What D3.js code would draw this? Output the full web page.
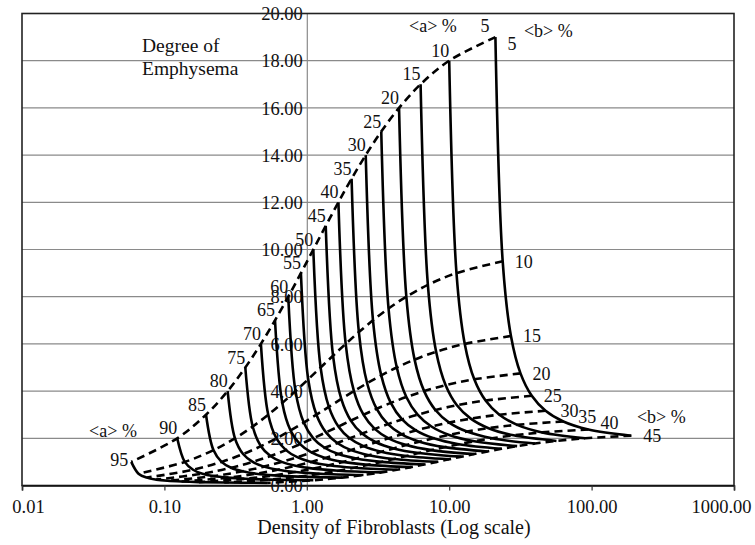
<!DOCTYPE html>
<html>
<head>
<meta charset="utf-8">
<script src="https://cdn.jsdelivr.net/npm/d3@7"></script>
<style>
  html, body { margin: 0; padding: 0; background: #fff; }
  svg { display: block; font-family: "Liberation Serif", "Times New Roman", serif; }
</style>
</head>
<body>
<svg id="chart" width="755" height="545"></svg>
<script>
// ---- data ----
const aLevels = [5, 10, 15, 20, 25, 30, 35, 40, 45, 50, 55, 60, 65, 70, 75, 80, 85, 90, 95];
const bLevels = [5, 10, 15, 20, 25, 30, 35, 40, 45];

// density of fibroblasts, one row per <a>%, one column per <b>%
const density = [
  [21.11, 23.75, 27.14, 31.67, 38.00, 47.50, 63.33, 95.00, 190.0],
  [10.00, 11.25, 12.86, 15.00, 18.00, 22.50, 30.00, 45.00, 90.00],
  [6.296, 7.083, 8.095, 9.444, 11.33, 14.17, 18.89, 28.33, 56.67],
  [4.444, 5.000, 5.714, 6.667, 8.000, 10.00, 13.33, 20.00, 40.00],
  [3.333, 3.750, 4.286, 5.000, 6.000, 7.500, 10.00, 15.00, 30.00],
  [2.593, 2.917, 3.333, 3.889, 4.667, 5.833, 7.778, 11.67, 23.33],
  [2.063, 2.321, 2.653, 3.095, 3.714, 4.643, 6.190, 9.286, 18.57],
  [1.667, 1.875, 2.143, 2.500, 3.000, 3.750, 5.000, 7.500, 15.00],
  [1.358, 1.528, 1.746, 2.037, 2.444, 3.056, 4.074, 6.111, 12.22],
  [1.111, 1.250, 1.429, 1.667, 2.000, 2.500, 3.333, 5.000, 10.00],
  [0.909, 1.023, 1.169, 1.364, 1.636, 2.045, 2.727, 4.091, 8.182],
  [0.741, 0.833, 0.952, 1.111, 1.333, 1.667, 2.222, 3.333, 6.667],
  [0.598, 0.673, 0.769, 0.897, 1.077, 1.346, 1.795, 2.692, 5.385],
  [0.476, 0.536, 0.612, 0.714, 0.857, 1.071, 1.429, 2.143, 4.286],
  [0.370, 0.417, 0.476, 0.556, 0.667, 0.833, 1.111, 1.667, 3.333],
  [0.278, 0.313, 0.357, 0.417, 0.500, 0.625, 0.833, 1.250, 2.500],
  [0.196, 0.221, 0.252, 0.294, 0.353, 0.441, 0.588, 0.882, 1.765],
  [0.123, 0.139, 0.159, 0.185, 0.222, 0.278, 0.370, 0.556, 1.111],
  [0.0585, 0.0658, 0.0752, 0.0877, 0.105, 0.132, 0.175, 0.263, 0.526]
];

// degree of emphysema, same layout
const emphysema = [
  [19, 9.5, 6.333, 4.75, 3.8, 3.167, 2.714, 2.375, 2.111],
  [18, 9, 6, 4.5, 3.6, 3, 2.571, 2.25, 2],
  [17, 8.5, 5.667, 4.25, 3.4, 2.833, 2.429, 2.125, 1.889],
  [16, 8, 5.333, 4, 3.2, 2.667, 2.286, 2, 1.778],
  [15, 7.5, 5, 3.75, 3, 2.5, 2.143, 1.875, 1.667],
  [14, 7, 4.667, 3.5, 2.8, 2.333, 2, 1.75, 1.556],
  [13, 6.5, 4.333, 3.25, 2.6, 2.167, 1.857, 1.625, 1.444],
  [12, 6, 4, 3, 2.4, 2, 1.714, 1.5, 1.333],
  [11, 5.5, 3.667, 2.75, 2.2, 1.833, 1.571, 1.375, 1.222],
  [10, 5, 3.333, 2.5, 2, 1.667, 1.429, 1.25, 1.111],
  [9, 4.5, 3, 2.25, 1.8, 1.5, 1.286, 1.125, 1],
  [8, 4, 2.667, 2, 1.6, 1.333, 1.143, 1, 0.889],
  [7, 3.5, 2.333, 1.75, 1.4, 1.167, 1, 0.875, 0.778],
  [6, 3, 2, 1.5, 1.2, 1, 0.857, 0.75, 0.667],
  [5, 2.5, 1.667, 1.25, 1, 0.833, 0.714, 0.625, 0.556],
  [4, 2, 1.333, 1, 0.8, 0.667, 0.571, 0.5, 0.444],
  [3, 1.5, 1, 0.75, 0.6, 0.5, 0.429, 0.375, 0.333],
  [2, 1, 0.667, 0.5, 0.4, 0.333, 0.286, 0.25, 0.222],
  [1, 0.5, 0.333, 0.25, 0.2, 0.167, 0.143, 0.125, 0.111]
];

const xTicks = [0.01, 0.1, 1, 10, 100, 1000];
const yTicks = [0, 2, 4, 6, 8, 10, 12, 14, 16, 18, 20];
const yTitleLines = ["Degree of", "Emphysema"];
const xTitle = "Density of Fibroblasts (Log scale)";
const aTitle = "<a> %";
const bTitle = "<b> %";

// ---- drawing ----
const svg = d3.select("#chart");
const L = 22, R = 734, T = 13.5, B = 485.5;
const x = d3.scaleLog().domain([0.01, 1000]).range([L, R]);
const y = d3.scaleLinear().domain([0, 20]).range([B, T]);
const fmt = d3.format(".2f");

// horizontal gridlines
svg.append("g").selectAll("line").data(yTicks.filter(d => d > 0 && d < 20)).join("line")
  .attr("x1", L).attr("x2", R).attr("y1", d => y(d)).attr("y2", d => y(d))
  .attr("stroke", "#8a8a8a").attr("stroke-width", 1.2);

// y axis at x = 1
const yAxis = svg.append("g").attr("transform", `translate(${x(1)},0)`)
  .call(d3.axisLeft(y).tickValues(yTicks).tickFormat(fmt).tickSize(0).tickPadding(4));
yAxis.select(".domain").attr("stroke", "#8a8a8a").attr("stroke-width", 1.2);
yAxis.selectAll("text").attr("font-size", 18.5).attr("fill", "#111")
  .attr("font-family", "Liberation Serif").attr("dy", "0.34em");

// plot frame
svg.append("rect").attr("x", L).attr("y", T).attr("width", R - L).attr("height", B - T)
  .attr("fill", "none").attr("stroke", "#222").attr("stroke-width", 1.6);

// x axis
const xAxis = svg.append("g").attr("transform", `translate(0,${B})`)
  .call(d3.axisBottom(x).tickValues(xTicks).tickFormat(fmt).tickSize(5).tickPadding(9));
xAxis.select(".domain").attr("stroke", "#111").attr("stroke-width", 1.6);
xAxis.selectAll(".tick line").attr("stroke", "#333").attr("stroke-width", 1.2);
xAxis.selectAll("text").attr("font-size", 18.5).attr("fill", "#111")
  .attr("font-family", "Liberation Serif")
  .attr("dx", d => d === 0.01 ? 6 : d === 1000 ? -13 : 0);

// curves
const line = d3.line().x(p => x(p[0])).y(p => y(p[1])).curve(d3.curveCatmullRom.alpha(0.5));
const curvesG = svg.append("g").attr("fill", "none").attr("stroke", "#000")
  .attr("stroke-linejoin", "round");

// solid: one per <a>%
curvesG.selectAll("path.a").data(aLevels).join("path").attr("class", "a")
  .attr("d", (a, i) => line(bLevels.map((b, j) => [density[i][j], emphysema[i][j]])))
  .attr("stroke-width", 2.6);

// dashed: one per <b>%
curvesG.selectAll("path.b").data(bLevels).join("path").attr("class", "b")
  .attr("d", (b, j) => line(aLevels.map((a, i) => [density[i][j], emphysema[i][j]])))
  .attr("stroke-width", 2.6).attr("stroke-dasharray", "8,5");

// labels for <a>%
const lab = svg.append("g").attr("font-size", 18).attr("fill", "#111");
lab.selectAll("text.al").data(aLevels).join("text").attr("class", "al")
  .attr("text-anchor", "end")
  .attr("x", (a, i) => x(density[i][0]) + (a === 5 ? -6 : a === 95 ? -3 : 0))
  .attr("y", (a, i) => y(emphysema[i][0]) + (a === 95 ? 4 : a === 5 ? -5 : -4))
  .text(a => a);

// labels for <b>%
const bShift = {5: 7, 35: -5, 40: -7};
lab.selectAll("text.bl").data(bLevels).join("text").attr("class", "bl")
  .attr("text-anchor", "start")
  .attr("x", (b, j) => x(density[0][j]) + (b >= 30 && b <= 35 ? 15 : 12))
  .attr("y", (b, j) => y(emphysema[0][j]) + (bShift[b] || 0))
  .attr("dy", "0.35em")
  .text(b => b);

// series titles
lab.append("text").attr("x", x(5.22)).attr("y", y(19.2)).text(aTitle);
lab.append("text").attr("x", x(33.5)).attr("y", y(19.0)).text(bTitle);
lab.append("text").attr("x", x(0.0296)).attr("y", y(2.06)).text(aTitle);
lab.append("text").attr("x", x(208)).attr("y", y(2.65)).text(bTitle);

// titles
svg.append("text").attr("x", 142).attr("y", 52).attr("font-size", 19.5).attr("fill", "#111")
  .selectAll("tspan").data(yTitleLines).join("tspan")
  .attr("x", 142).attr("dy", (d, i) => i ? 23 : 0).text(d => d);

svg.append("text").attr("x", (L + R) / 2 + 16).attr("y", 534).attr("text-anchor", "middle")
  .attr("font-size", 20).attr("fill", "#111").text(xTitle);
</script>
</body>
</html>
